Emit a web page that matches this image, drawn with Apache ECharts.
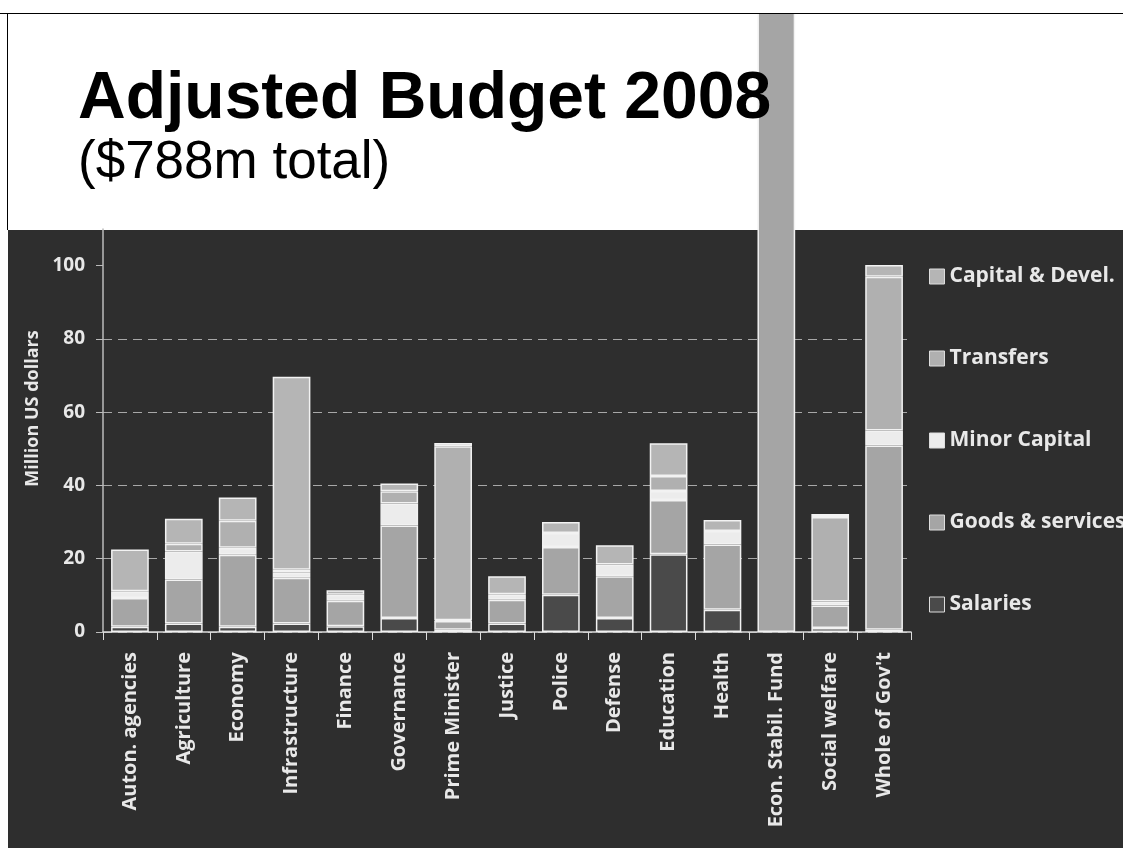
<!DOCTYPE html>
<html>
<head>
<meta charset="utf-8">
<script src="https://cdn.jsdelivr.net/npm/echarts@6/dist/echarts.min.js"></script>
<style>
  html, body { margin: 0; padding: 0; background: #fff; }
  #page { position: relative; width: 1123px; height: 848px; overflow: hidden; background: #fff; }
  #titlebox { position: absolute; left: 7px; top: 13px; right: 0; height: 217px; border-top: 1.5px solid #000; border-left: 1.5px solid #000; box-sizing: border-box; background: #fff; }
  #dark { position: absolute; left: 8px; top: 230px; right: 0; bottom: 0; background: #2e2e2e; }
  #chart { position: absolute; left: 0; top: 0; width: 1123px; height: 848px; }
  #topcover { position: absolute; left: 0; top: 0; width: 1123px; height: 13px; background: #fff; border-bottom: 1.5px solid #000; box-sizing: content-box; z-index: 5; }
</style>
</head>
<body>
<div id="page">
  <div id="titlebox"></div>
  <div id="dark"></div>
  <div id="chart"></div>
  <div id="topcover"></div>
</div>
<script>
// ---- data (million US dollars) ----
const categories = ['Auton. agencies', 'Agriculture', 'Economy', 'Infrastructure', 'Finance', 'Governance',
  'Prime Minister', 'Justice', 'Police', 'Defense', 'Education', 'Health', 'Econ. Stabil. Fund',
  'Social welfare', "Whole of Gov't"];
const salaries  = [1.4, 2.3, 1.4, 2.3, 1.6, 3.8, 0.6, 2.3, 10.2, 3.8, 21.2, 6.1, 0, 1.1, 0.6];
const goods     = [7.9, 12.0, 19.7, 12.5, 6.9, 25.3, 2.4, 6.5, 13.0, 11.4, 14.8, 17.8, 236.5, 6.1, 50.3];
const minorCap  = [1.8, 7.7, 1.9, 1.4, 1.7, 6.0, 0.2, 1.5, 3.8, 3.2, 2.5, 3.7, 0, 1.1, 4.1];
const transfers = [0, 2.1, 7.4, 0.8, 0, 3.3, 47.5, 0, 0, 0, 4.1, 0, 0, 23.1, 42.0];
const capital   = [11.4, 6.8, 6.3, 52.7, 1.2, 2.1, 0.9, 4.9, 3.0, 5.3, 8.9, 3.0, 0, 0.8, 3.2];
const yTicks = [0, 20, 40, 60, 80, 100];

const seriesDefs = [
  { name: 'Salaries', data: salaries, color: '#4a4a4a' },
  { name: 'Goods & services', data: goods, color: '#a5a5a5' },
  { name: 'Minor Capital', data: minorCap, color: '#ececec' },
  { name: 'Transfers', data: transfers, color: '#b0b0b0' },
  { name: 'Capital & Devel.', data: capital, color: '#b5b5b5' }
];

const chart = echarts.init(document.getElementById('chart'), null, { renderer: 'canvas' });
const lightText = '#e8e8e8';
const font = '"Open Sans", "Liberation Sans", sans-serif';

chart.setOption({
  backgroundColor: 'transparent',
  animation: false,
  title: [
    {
      text: 'Adjusted Budget 2008', left: 73, top: 62,
      textStyle: { fontFamily: '"Liberation Sans", Arial, sans-serif', fontWeight: 'bold', fontSize: 66, color: '#000',
        textShadowColor: '#ffffff', textShadowOffsetX: 2, textShadowOffsetY: 2, textShadowBlur: 0 }
    },
    {
      text: '($788m total)', left: 73, top: 132,
      textStyle: { fontFamily: '"Liberation Sans", Arial, sans-serif', fontWeight: 'normal', fontSize: 53, color: '#000' }
    }
  ],
  legend: {
    orient: 'vertical', left: 929, top: 266,
    itemWidth: 15, itemHeight: 15, itemGap: 61, padding: 0,
    icon: 'rect',
    data: ['Capital & Devel.', 'Transfers', 'Minor Capital', 'Goods & services', 'Salaries'],
    itemStyle: { borderColor: '#dddddd', borderWidth: 1 },
    textStyle: { color: lightText, fontFamily: font, fontWeight: 'bold', fontSize: 21 }
  },
  grid: { left: 103, right: 212, top: 229, bottom: 216, containLabel: false },
  xAxis: {
    type: 'category', data: categories,
    axisLine: { lineStyle: { color: '#dcdcdc', width: 1.5 } },
    axisTick: { show: true, length: 8, lineStyle: { color: '#dcdcdc' } },
    axisLabel: { interval: 0, rotate: 90, margin: 20, color: lightText, fontFamily: font, fontWeight: 'bold', fontSize: 20 }
  },
  yAxis: {
    type: 'value', min: 0, max: 110, interval: 20,
    name: 'Million US dollars', nameLocation: 'middle', nameRotate: 90, nameGap: 60,
    nameTextStyle: { color: lightText, fontFamily: font, fontWeight: 'bold', fontSize: 18, padding: [0, 0, 0, 44] },
    axisLine: { show: true, lineStyle: { color: '#bbbbbb', width: 1.5 } },
    axisTick: { show: true, length: 7, customValues: yTicks, lineStyle: { color: '#bbbbbb' } },
    axisLabel: { customValues: yTicks, margin: 18, color: lightText, fontFamily: font, fontWeight: 'bold', fontSize: 19 },
    splitLine: { show: true, showMaxLine: false, lineStyle: { color: '#a8a8a8', type: [9, 6], width: 1 } }
  },
  series: seriesDefs.map(s => ({
    name: s.name, type: 'bar', stack: 'total', clip: false,
    barCategoryGap: '30%',
    data: s.data.map(v => (v === 0 ? null : v)),
    itemStyle: { color: s.color, borderColor: '#f2f2f2', borderWidth: 1.5 },
    emphasis: { disabled: true }
  }))
});
</script>
</body>
</html>
